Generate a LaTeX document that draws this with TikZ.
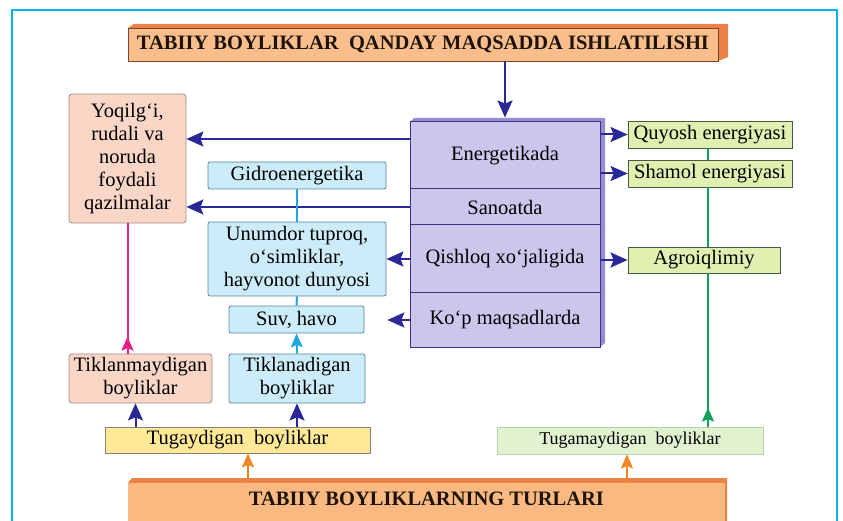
\documentclass[tikz,border=0pt]{standalone}
\usepackage{fontspec}
\setmainfont{Liberation Serif}
\usepackage{tikz}
\usetikzlibrary{arrows.meta}

\definecolor{frameblue}{RGB}{0,176,240}
\definecolor{peach}{RGB}{250,214,198}
\definecolor{peachline}{RGB}{160,140,135}
\definecolor{sky}{RGB}{204,236,250}
\definecolor{skyline}{RGB}{90,130,160}
\definecolor{lime}{RGB}{224,240,176}
\definecolor{limeline}{RGB}{70,90,70}
\definecolor{palelime}{RGB}{226,242,208}
\definecolor{palelimeline}{RGB}{180,210,170}
\definecolor{sand}{RGB}{255,232,150}
\definecolor{sandline}{RGB}{130,130,130}
\definecolor{lilac}{RGB}{202,198,236}
\definecolor{lilacside}{RGB}{150,140,210}
\definecolor{lilacline}{RGB}{60,50,140}
\definecolor{apricot}{RGB}{250,190,140}
\definecolor{apricotside}{RGB}{236,130,70}
\definecolor{apricotline}{RGB}{120,70,40}
\definecolor{navy}{RGB}{40,40,150}
\definecolor{rose}{RGB}{232,30,130}
\definecolor{aqua}{RGB}{30,170,225}
\definecolor{leaf}{RGB}{20,160,90}
\definecolor{tangerine}{RGB}{242,132,40}

\begin{document}
\begin{tikzpicture}[x=1pt,y=-1pt,
    txt/.style={inner sep=1pt, align=center, font=\fontsize{20.5}{23}\selectfont},
    wh/.style 2 args={minimum width=#1, minimum height=#2},
    pinkbox/.style={txt, draw=peachline, fill=peach, rounded corners=3pt, line width=0.8pt},
    bluebox/.style={txt, draw=skyline, fill=sky, rounded corners=2pt, line width=0.8pt},
    greenbox/.style={txt, draw=limeline, fill=lime, line width=0.8pt},
    sandbox/.style={txt, draw=sandline, fill=sand, line width=0.8pt},
    lilacbox/.style={txt, draw=lilacline, fill=lilac, line width=1pt, minimum width=190pt},
    headbox/.style={txt, font=\fontsize{20.5}{23}\selectfont\bfseries, fill=apricot, text=black!85!brown},
    arr/.style={draw=navy, line width=2pt, -{Stealth[length=17pt,width=15pt,inset=3pt]}},
    tip/.style={draw=#1, line width=2pt, -{Stealth[length=14pt,width=12pt,inset=2.5pt]}},
    link/.style={draw=#1, line width=2pt}]
    \clip (0,0) rectangle (843,521);
    \draw[frameblue, line width=2.5pt] (12,10) rectangle (837,545); % frame

    % top title
    \fill[apricotside] (128,28) -- (134,24) -- (728,24) -- (728,57) -- (718,61) -- (718,28) -- cycle;
    \node[headbox, draw=apricotline, line width=0.8pt, wh={590pt}{33pt}] (title) at (423,44.5)
        {TABIIY BOYLIKLAR\ \ QANDAY MAQSADDA ISHLATILISHI};

    % purple block
    \fill[lilacside] (410,122) -- (414,118) -- (605,118) -- (605,343) -- (600,347) -- (600,122) -- cycle;
    \node[lilacbox, minimum height=67pt] (energ) at (505,155.5) {Energetikada};
    \node[lilacbox, minimum height=36pt] (sanoat) at (505,207) {Sanoatda};
    \node[lilacbox, minimum height=68pt] (qish) at (505,259) {Qishloq xo‘jaligida};
    \node[lilacbox, minimum height=54pt] (kop) at (505,320) {Ko‘p maqsadlarda};

    % left side
    \node[pinkbox, wh={117pt}{129pt}] (yoq) at (127.5,158.5)
        {Yoqilg‘i,\\rudali va\\noruda\\foydali\\qazilmalar};
    \node[bluebox, wh={178pt}{27pt}] (gidro) at (297,175.5) {Gidroenergetika};
    \node[bluebox, wh={178pt}{74pt}] (unum) at (297,259)
        {Unumdor tuproq,\\o‘simliklar,\\hayvonot dunyosi};
    \node[bluebox, wh={135pt}{27pt}] (suv) at (296.5,319.5) {Suv, havo};
    \node[pinkbox, wh={143pt}{49pt}] (tikm) at (140.5,378.5) {Tiklanmaydigan\\boyliklar};
    \node[bluebox, wh={136pt}{49pt}] (tikl) at (297,378.5) {Tiklanadigan\\boyliklar};
    \node[sandbox, wh={265pt}{26pt}] (tug) at (237.5,440) {Tugaydigan\ \ boyliklar};

    % right side
    \node[greenbox, wh={164pt}{27pt}] (quy) at (710,134.5) {Quyosh energiyasi};
    \node[greenbox, wh={164pt}{27pt}] (shamol) at (710,173.5) {Shamol energiyasi};
    \node[greenbox, wh={152pt}{26pt}] (agro) at (704,260) {Agroiqlimiy};
    \node[txt, font=\fontsize{18}{21}\selectfont, draw=palelimeline, fill=palelime,
        line width=0.8pt, wh={266pt}{27pt}] (tugam) at (630,440.5) {Tugamaydigan\ \ boyliklar};

    % bottom title
    \fill[apricotside] (128,483) -- (132,478) -- (727,478) -- (727,530) -- (725,530) -- (725,483) -- cycle;
    \node[headbox, fill=apricot!92!orange, anchor=north, minimum width=597pt,
        inner ysep=4pt, text height=18pt, text depth=21pt] (turlar) at (426.5,483)
        {TABIIY BOYLIKLARNING TURLARI};

    % connectors
    \draw[arr] (title.south -| energ.north) -- ([yshift=4pt]energ.north);
    \draw[arr] ([yshift=16.5pt]energ.west) -- ([yshift=16.5pt]energ.west -| yoq.east);
    \draw[arr] (sanoat.west) -- (sanoat.west -| yoq.east);
    \draw[arr] (qish.west) -- (qish.west -| unum.east);
    \draw[arr, shorten >=23pt] (kop.west) -- (kop.west -| suv.east);
    \draw[arr] (quy.west -| energ.east) -- (quy.west);
    \draw[arr] (shamol.west -| energ.east) -- (shamol.west);
    \draw[arr] (agro.west -| qish.east) -- (agro.west);
    \draw[arr] ([xshift=-5pt]tikm.south |- tug.north) -- ([xshift=-5pt]tikm.south);
    \draw[arr] (tikl.south |- tug.north) -- (tikl.south);

    \draw[link=rose] (yoq.south) -- (yoq.south |- tikm.north);
    \draw[tip=rose] (yoq.south |- tikm.north) -- ++(0,-17);
    \draw[link=aqua] (gidro.south) -- (unum.north);
    \draw[link=aqua] (unum.south) -- (suv.north);
    \draw[tip=aqua] (tikl.north) -- (suv.south);

    \coordinate (gx) at (708,0); % green line
    \draw[link=leaf] (tugam.north -| gx) -- (agro.south -| gx);
    \draw[link=leaf] (agro.north -| gx) -- (shamol.south -| gx);
    \draw[link=leaf] (shamol.north -| gx) -- (quy.south -| gx);
    \draw[tip=leaf] (tugam.north -| gx) -- ++(0,-19);

    \draw[tip=tangerine] ([xshift=10.5pt]tug.south |- turlar.north) -- ([xshift=10.5pt]tug.south);
    \draw[tip=tangerine] ([xshift=-3pt]tugam.south |- turlar.north) -- ([xshift=-3pt]tugam.south);
\end{tikzpicture}
\end{document}
